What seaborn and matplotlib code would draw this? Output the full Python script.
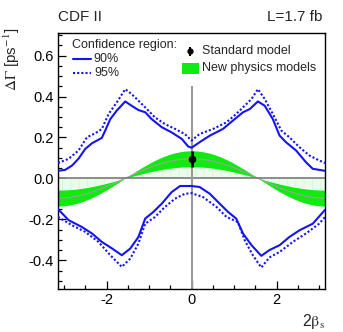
import numpy as np
import pandas as pd
import seaborn as sns
import matplotlib
matplotlib.use("Agg")
import matplotlib.pyplot as plt
from matplotlib.ticker import MultipleLocator
from matplotlib.patches import Rectangle

# ---------------- data ----------------
up90_x = [-3.14, -2.97, -2.81, -2.66, -2.50, -2.34, -2.11, -2.03, -1.91, -1.76, -1.56, -1.41, -1.25,
          -1.09, -0.94, -0.70, -0.47, -0.23, -0.08, 0.0, 0.19, 0.43, 0.74, 0.97, 1.21, 1.37, 1.56,
          1.72, 1.91, 2.07, 2.22, 2.46, 2.69, 2.85, 3.14]
up90_y = [0.037, 0.042, 0.063, 0.096, 0.144, 0.172, 0.198, 0.234, 0.290, 0.331, 0.376, 0.355, 0.334,
          0.323, 0.290, 0.250, 0.225, 0.193, 0.156, 0.150, 0.177, 0.209, 0.242, 0.282, 0.323, 0.339, 0.376,
          0.355, 0.290, 0.209, 0.177, 0.136, 0.079, 0.047, 0.037]

up95_x = [-3.14, -2.89, -2.66, -2.46, -2.26, -2.11, -1.95, -1.76, -1.56, -1.41, -1.25, -1.09, -0.86,
          -0.63, -0.39, -0.16, 0.0, 0.19, 0.51, 0.82, 1.05, 1.21, 1.41, 1.56, 1.72, 1.91, 2.11, 2.30,
          2.54, 2.77, 3.00, 3.14]
up95_y = [0.075, 0.096, 0.136, 0.201, 0.221, 0.242, 0.315, 0.371, 0.436, 0.412, 0.380, 0.347, 0.298,
          0.266, 0.242, 0.217, 0.185, 0.217, 0.242, 0.274, 0.315, 0.347, 0.388, 0.436, 0.388, 0.315, 0.234,
          0.201, 0.152, 0.112, 0.088, 0.075]

lo90_x = [-3.14, -2.89, -2.58, -2.34, -2.11, -1.87, -1.64, -1.44, -1.25, -1.09, -0.90, -0.70, -0.47,
          -0.27, 0.0, 0.19, 0.43, 0.66, 0.86, 1.05, 1.21, 1.41, 1.64, 1.83, 2.07, 2.30, 2.54, 2.85, 3.14]
lo90_y = [-0.150, -0.204, -0.237, -0.269, -0.310, -0.342, -0.375, -0.342, -0.286, -0.196, -0.164,
          -0.123, -0.067, -0.037, -0.037, -0.042, -0.075, -0.123, -0.164, -0.196, -0.269, -0.326,
          -0.378, -0.350, -0.326, -0.286, -0.253, -0.221, -0.153]

lo95_x = [-3.14, -2.81, -2.50, -2.19, -1.91, -1.64, -1.44, -1.25, -1.09, -0.86, -0.63, -0.39, -0.16,
          0.0, 0.27, 0.59, 0.82, 1.09, 1.25, 1.44, 1.64, 1.83, 2.07, 2.38, 2.69, 3.00, 3.14]
lo95_y = [-0.188, -0.229, -0.261, -0.310, -0.375, -0.432, -0.391, -0.318, -0.221, -0.188, -0.140,
          -0.099, -0.075, -0.072, -0.091, -0.140, -0.188, -0.213, -0.302, -0.375, -0.435, -0.386,
          -0.359, -0.310, -0.269, -0.221, -0.188]

# Standard model point and new-physics band  (dGamma = dGamma_SM * cos(2 beta_s))
sm_x = [0.0]
sm_y = [0.096]
sm_err = [0.039]

x_ticks = [-2, 0, 2]
y_ticks = [-0.4, -0.2, 0.0, 0.2, 0.4, 0.6]

# ---------------- style ----------------
sns.set_style("ticks")
plt.rcParams['font.family'] = ['Liberation Sans', 'DejaVu Sans']
plt.rcParams['mathtext.fontset'] = 'stix'
plt.rcParams['hatch.linewidth'] = 0.6

BLUE = '#1414f0'
GREEN = '#10ea10'
LIGHT = '#eafcea'

fig = plt.figure(figsize=(3.43, 3.32), dpi=100)
ax = fig.add_axes([0.169, 0.1295, 0.779, 0.771])

xlo, xhi = -np.pi, np.pi
ylo, yhi = -0.54, 0.71

# band
phi = np.linspace(xlo, xhi, 400)
c = np.cos(phi)
inner = (sm_y[0] - sm_err[0]) * c
outer = (sm_y[0] + sm_err[0]) * c
ax.fill_between(phi, 0, inner, facecolor=LIGHT, lw=0, hatch='||', edgecolor='#d8f6d8')
ax.fill_between(phi, inner, outer, color=GREEN, lw=0)
sns.lineplot(x=phi, y=sm_y[0] * c, ax=ax, color='#a0a0a0', lw=0.8, sort=False)

# reference lines
ax.axhline(0, color='#7a7a7a', lw=1.2, zorder=2)
ax.vlines(0, ylo, 0.45, color='#9a9a9a', lw=1.5, zorder=2)

# contours
curves = pd.concat([
    pd.DataFrame({'x': up90_x, 'y': up90_y, 'part': 'up90', 'CL': '90%'}),
    pd.DataFrame({'x': lo90_x, 'y': lo90_y, 'part': 'lo90', 'CL': '90%'}),
    pd.DataFrame({'x': up95_x, 'y': up95_y, 'part': 'up95', 'CL': '95%'}),
    pd.DataFrame({'x': lo95_x, 'y': lo95_y, 'part': 'lo95', 'CL': '95%'}),
])
for part, d in curves.groupby('part'):
    ls = '-' if d['CL'].iloc[0] == '90%' else (0, (1.0, 1.0))
    sns.lineplot(data=d, x='x', y='y', ax=ax, color=BLUE, lw=1.5, linestyle=ls,
                 sort=False, zorder=4, solid_joinstyle='round', dash_joinstyle='round')

# SM point
ax.errorbar(sm_x, sm_y, yerr=sm_err, fmt='o', color='black', ms=4.5, elinewidth=2.0,
            capsize=0, zorder=5)

ax.set_xlim(xlo, xhi)
ax.set_ylim(ylo, yhi)
ax.set_xticks(x_ticks)
ax.set_xticklabels([f'{t:d}' for t in x_ticks])
ax.set_yticks(y_ticks)
ax.set_yticklabels([f'{t:.1f}' for t in y_ticks])
ax.xaxis.set_minor_locator(MultipleLocator(0.5))
ax.yaxis.set_minor_locator(MultipleLocator(0.05))
ax.tick_params(which='both', direction='in', top=False, right=False, labelsize=10.5, colors='black')
ax.tick_params(which='major', length=5.5, width=0.9, pad=3)
ax.tick_params(which='minor', length=3, width=0.9)
for s in ax.spines.values():
    s.set_color('black')
    s.set_linewidth(1.0)

ax.set_xlabel(r'2$\mathrm{\beta}_{\mathrm{s}}$', fontsize=11.5, ha='right')
ax.xaxis.set_label_coords(1.0, -0.09)
ax.set_ylabel(r'$\Delta\Gamma$ [ps$^{-1}$]', fontsize=11, ha='right')
ax.yaxis.set_label_coords(-0.135, 1.02)

ax.text(0.0, 1.035, 'CDF II', transform=ax.transAxes, fontsize=11, ha='left', va='bottom')
ax.text(0.99, 1.035, 'L=1.7 fb', transform=ax.transAxes, fontsize=11, ha='right', va='bottom')

# legend (manual, ROOT style)
ax.text(0.052, 0.953, 'Confidence region:', transform=ax.transAxes, fontsize=9, va='center')
ax.plot([0.056, 0.124], [0.898, 0.898], transform=ax.transAxes, color=BLUE, lw=1.5)
ax.text(0.131, 0.898, '90%', transform=ax.transAxes, fontsize=9, va='center')
ax.plot([0.056, 0.124], [0.842, 0.842], transform=ax.transAxes, color=BLUE, lw=1.5,
        linestyle=(0, (1.0, 1.0)))
ax.text(0.138, 0.842, '95%', transform=ax.transAxes, fontsize=9, va='center')

ax.errorbar([0.494], [0.928], yerr=[0.016], transform=ax.transAxes, fmt='o', color='black',
            ms=3.5, elinewidth=1.5, capsize=0)
ax.text(0.539, 0.928, 'Standard model', transform=ax.transAxes, fontsize=9, va='center')
ax.add_patch(Rectangle((0.464, 0.84), 0.064, 0.043, transform=ax.transAxes, color=GREEN, lw=0))
ax.text(0.539, 0.863, 'New physics models', transform=ax.transAxes, fontsize=9, va='center')

fig.savefig('out.png', dpi=100)
